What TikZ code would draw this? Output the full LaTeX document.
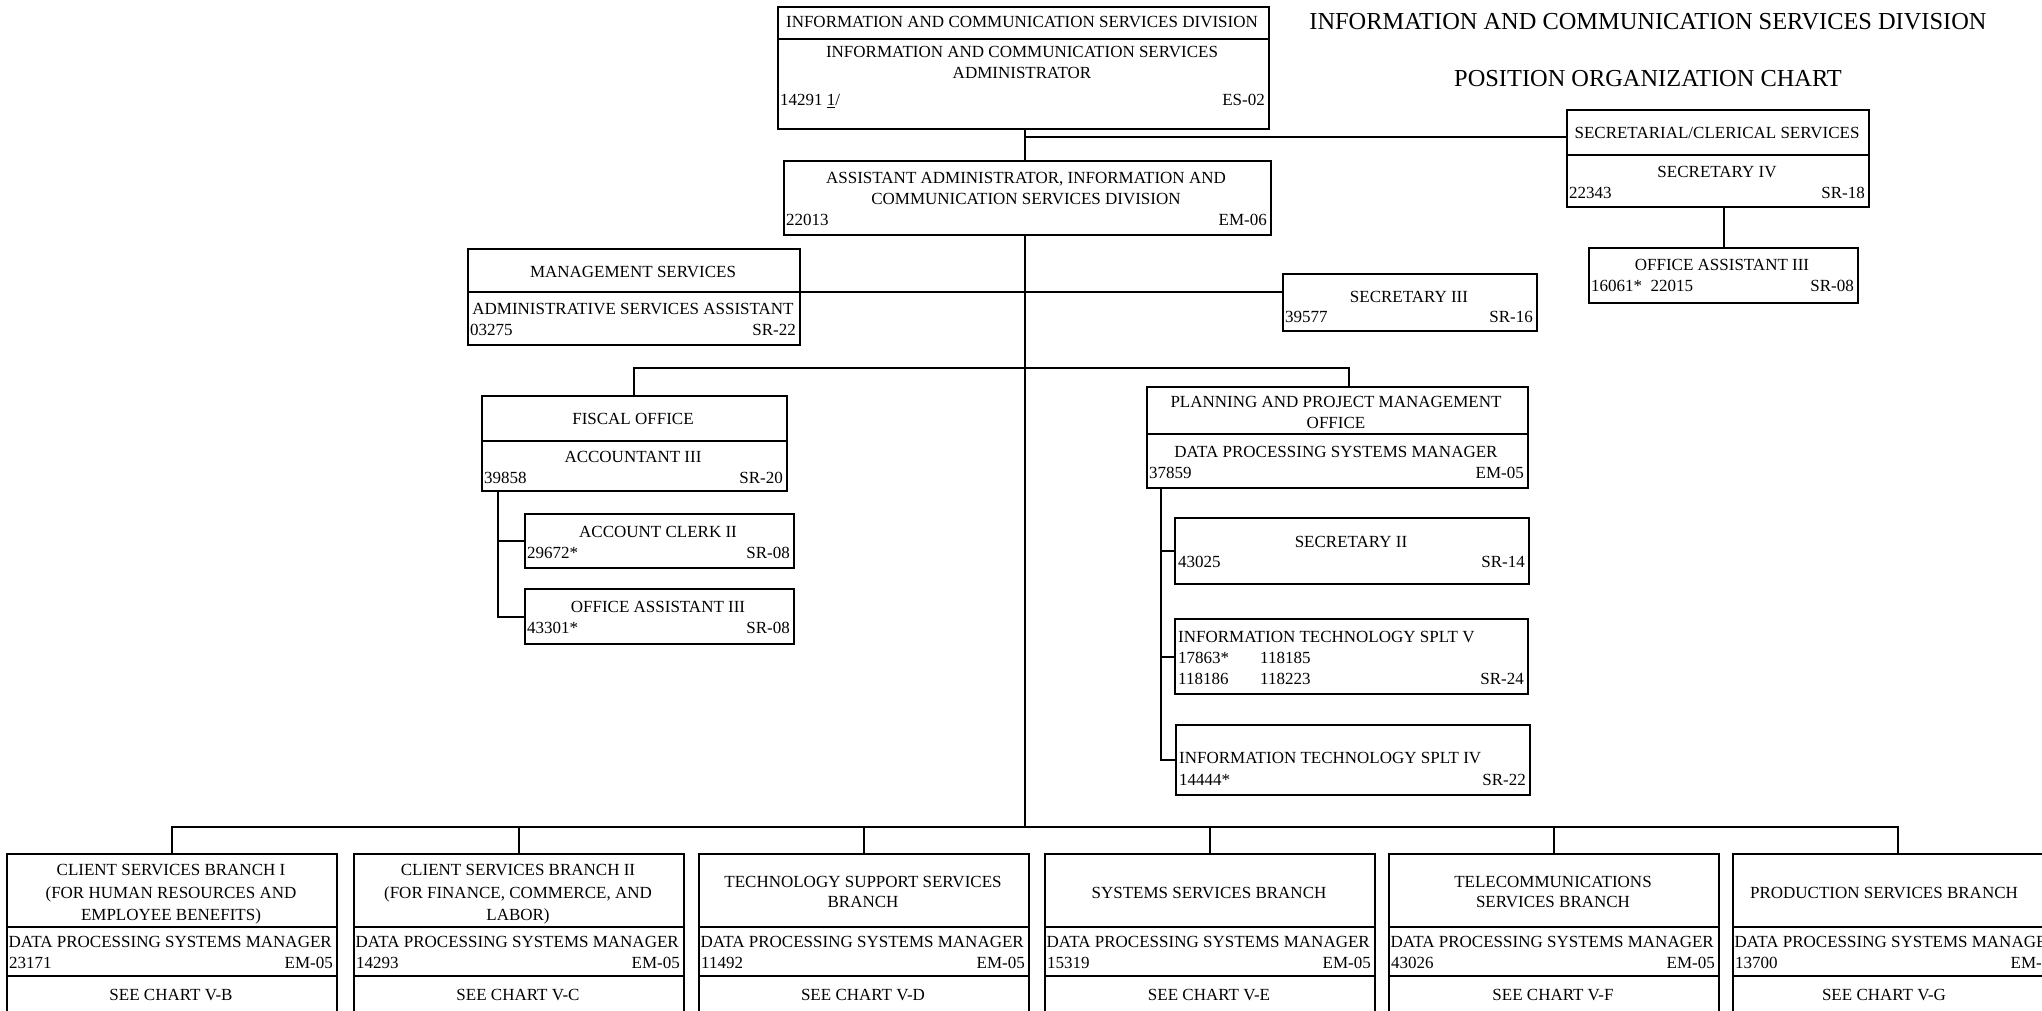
\documentclass[tikz,border=0pt]{standalone}
\usepackage{fontspec}
\setmainfont{Liberation Serif}
\usetikzlibrary{calc}
\tikzset{
  bx/.style={draw, line width=2.2pt, inner sep=0pt, anchor=north west},
  rule/.style={line width=2.2pt},
  conn/.style={line width=2.2pt},
  t/.style={font=\fontsize{17}{19}\selectfont, inner sep=0pt, text height=11pt, text depth=0pt},
  tl/.style={t, anchor=west},
  tr/.style={t, anchor=east},
  ttl/.style={font=\fontsize{24.4}{28}\selectfont, inner sep=0pt, text height=16pt, text depth=0pt},
}
\newcommand\orgbox[5]{\node[bx, minimum width={(#4)-(#2)}, minimum height={(#5)-(#3)}] (#1) at (#2,#3) {};}
\newcommand\seprule[3]{\draw[rule] (#1,#3) -- (#2,#3);}
\begin{document}
\begin{tikzpicture}[x=1pt,y=-1pt]
\useasboundingbox (0,0) rectangle (2042,1010);
\fill[white] (0,0) rectangle (2042,1010);
\clip (0,0) rectangle (2042,1010);

% titles
\node[ttl] (title1) at (1648,21) {INFORMATION AND COMMUNICATION SERVICES DIVISION};
\node[ttl] (title2) at (1648,78) {POSITION ORGANIZATION CHART};

% administrator
\orgbox{adm}{777}{6}{1268}{128}
\seprule{777}{1268}{39}
\node[t] (adm1) at (1022,22) {INFORMATION AND COMMUNICATION SERVICES DIVISION};
\node[t] (adm2) at (1022,52) {INFORMATION AND COMMUNICATION SERVICES};
\node[t] (adm3) at (1022,73) {ADMINISTRATOR};
\node[tl] (adm4) at (780,100) {14291 \underline{1}/};
\node[tr] (adm5) at (1265,100) {ES-02};

% assistant administrator
\orgbox{asst}{783}{160}{1270}{234}
\node[t] (asst1) at (1026,178) {ASSISTANT ADMINISTRATOR, INFORMATION AND};
\node[t] (asst2) at (1026,199) {COMMUNICATION SERVICES DIVISION};
\node[tl] (asst3) at (786,220) {22013};
\node[tr] (asst4) at (1267,220) {EM-06};

% secretarial
\orgbox{sec}{1566}{109}{1868}{206}
\seprule{1566}{1868}{155}
\node[t] (sec1) at (1717,133) {SECRETARIAL/CLERICAL SERVICES};
\node[t] (sec2) at (1717,172) {SECRETARY IV};
\node[tl] (sec3) at (1569,193) {22343};
\node[tr] (sec4) at (1865,193) {SR-18};

\orgbox{oar}{1588}{247}{1857}{302}
\node[t] (oar1) at (1722,265) {OFFICE ASSISTANT III};
\node[tl] (oar2) at (1591,286) {16061*\ \ 22015};
\node[tr] (oar3) at (1854,286) {SR-08};

% management
\orgbox{mgmt}{467}{248}{799}{344}
\seprule{467}{799}{292}
\node[t] (mg1) at (633,272) {MANAGEMENT SERVICES};
\node[t] (mg2) at (633,309) {ADMINISTRATIVE SERVICES ASSISTANT};
\node[tl] (mg3) at (470,330) {03275};
\node[tr] (mg4) at (796,330) {SR-22};

% secretary III
\orgbox{sthree}{1282}{273}{1536}{330}
\node[t] (st1) at (1409,297) {SECRETARY III};
\node[tl] (st2) at (1285,317) {39577};
\node[tr] (st3) at (1533,317) {SR-16};

% fiscal
\orgbox{fisc}{481}{395}{786}{490}
\seprule{481}{786}{441}
\node[t] (fi1) at (633,419) {FISCAL OFFICE};
\node[t] (fi2) at (633,457) {ACCOUNTANT III};
\node[tl] (fi3) at (484,478) {39858};
\node[tr] (fi4) at (783,478) {SR-20};

\orgbox{ac}{524}{513}{793}{567}
\node[t] (ac1) at (658,532) {ACCOUNT CLERK II};
\node[tl] (ac2) at (527,553) {29672*};
\node[tr] (ac3) at (790,553) {SR-08};

\orgbox{oal}{524}{588}{793}{643}
\node[t] (oal1) at (658,607) {OFFICE ASSISTANT III};
\node[tl] (oal2) at (527,628) {43301*};
\node[tr] (oal3) at (790,628) {SR-08};

% planning
\orgbox{plan}{1146}{386}{1527}{487}
\seprule{1146}{1527}{434}
\node[t] (pl1) at (1336,402) {PLANNING AND PROJECT MANAGEMENT};
\node[t] (pl2) at (1336,423) {OFFICE};
\node[t] (pl3) at (1336,452) {DATA PROCESSING SYSTEMS MANAGER};
\node[tl] (pl4) at (1149,473) {37859};
\node[tr] (pl5) at (1524,473) {EM-05};

\orgbox{stwo}{1174}{517}{1528}{583}
\node[t] (sw1) at (1351,542) {SECRETARY II};
\node[tl] (sw2) at (1178,562) {43025};
\node[tr] (sw3) at (1525,562) {SR-14};

\orgbox{itv}{1174}{618}{1527}{693}
\node[tl] (iv1) at (1178,637) {INFORMATION TECHNOLOGY SPLT V};
\node[tl] (iv2) at (1178,658) {17863*};
\node[tl] (iv3) at (1260,658) {118185};
\node[tl] (iv4) at (1178,679) {118186};
\node[tl] (iv5) at (1260,679) {118223};
\node[tr] (iv6) at (1524,679) {SR-24};

\orgbox{itiv}{1175}{724}{1529}{794}
\node[tl] (ii1) at (1179,758) {INFORMATION TECHNOLOGY SPLT IV};
\node[tl] (ii2) at (1179,780) {14444*};
\node[tr] (ii3) at (1526,780) {SR-22};

% bottom branches
\newcommand\branch[6]{%
  \orgbox{#1}{#2}{853}{#3}{1040}
  \seprule{#2}{#3}{927}
  \seprule{#2}{#3}{976}
  \node[tl] (#1d) at ($(#2,942)+(2.5,0)$) {DATA PROCESSING SYSTEMS MANAGER};
  \node[tl] (#1n) at ($(#2,963)+(3,0)$) {#4};
  \node[tr] (#1g) at ($(#3,963)+(-3,0)$) {EM-05};
  \node[t] (#1s) at (#6,995) {SEE CHART #5};
}
\branch{ba}{6}{336}{23171}{V-B}{171}
\node[t] (ba1) at (171,870) {CLIENT SERVICES BRANCH I};
\node[t] (ba2) at (171,893) {(FOR HUMAN RESOURCES AND};
\node[t] (ba3) at (171,915) {EMPLOYEE BENEFITS)};
\branch{bb}{353}{683}{14293}{V-C}{518}
\node[t] (bb1) at (518,870) {CLIENT SERVICES BRANCH II};
\node[t] (bb2) at (518,893) {(FOR FINANCE, COMMERCE, AND};
\node[t] (bb3) at (518,915) {LABOR)};
\branch{bc}{698}{1028}{11492}{V-D}{863}
\node[t] (bc1) at (863,882) {TECHNOLOGY SUPPORT SERVICES};
\node[t] (bc2) at (863,902) {BRANCH};
\branch{bd}{1044}{1374}{15319}{V-E}{1209}
\node[t] (bd1) at (1209,893) {SYSTEMS SERVICES BRANCH};
\branch{be}{1388}{1718}{43026}{V-F}{1553}
\node[t] (be1) at (1553,882) {TELECOMMUNICATIONS};
\node[t] (be2) at (1553,902) {SERVICES BRANCH};
\branch{bf}{1732}{2062}{13700}{V-G}{1884}
\node[t] (bf1) at (1884,893) {PRODUCTION SERVICES BRANCH};

% connectors
\coordinate (spine) at (1025,0);
\coordinate (j1) at (1025,137);
\coordinate (bus) at (1025,827);
\draw[conn] (adm.south -| spine) -- (asst.north -| spine);
\draw[conn] (j1) -- (j1 -| sec.west);
\draw[conn] (oar.north) -- (oar.north |- sec.south);
\draw[conn] (asst.south -| spine) -- (bus);
\draw[conn] (mgmt.east |- 0,292) -- (sthree.west |- 0,292);
\coordinate (fb) at (634,368);
\coordinate (pb) at (1349,368);
\draw[conn] (fisc.north -| fb) -- (fb) -- (pb) -- (plan.north -| pb);
\coordinate (fv) at (498,0);
\draw[conn] (fisc.south -| fv) -- (oal.west -| fv) -- (oal.west);
\draw[conn] (ac.west -| fv) -- (ac.west);
\coordinate (pv) at (1161,0);
\draw[conn] (plan.south -| pv) -- (itiv.west -| pv) -- (itiv.west);
\draw[conn] (stwo.west -| pv) -- (stwo.west);
\draw[conn] (itv.west -| pv) -- (itv.west);
\draw[conn] (ba.north) -- (ba.north |- bus) -- (bf.north |- bus) -- (bf.north);
\foreach \b in {bb,bc,bd,be} \draw[conn] (\b.north) -- (\b.north |- bus);
\end{tikzpicture}
\end{document}
